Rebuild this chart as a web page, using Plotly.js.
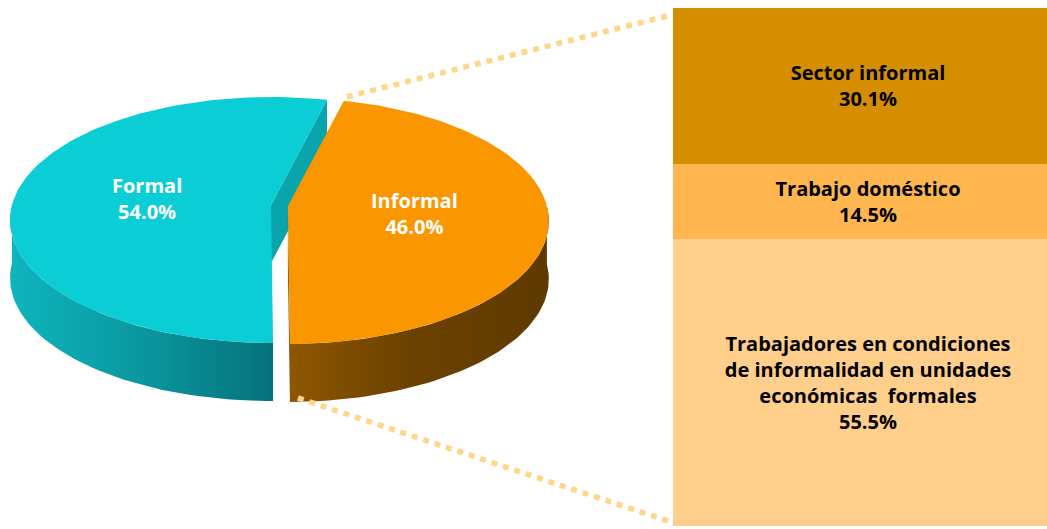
<!DOCTYPE html>
<html><head><meta charset="utf-8">
<script src="https://cdn.plot.ly/plotly-3.0.1.min.js"></script>
<style>html,body{margin:0;padding:0;background:#fff;overflow:hidden;} #chart{width:1047px;height:529px;}</style>
</head><body><div id="chart"></div>
<script>
// ---- data ----
const pieLabels = ['Formal', 'Informal'];
const pieValues = [54.0, 46.0];
const barLabels = ['Trabajadores en condiciones<br>de informalidad en unidades<br>económicas  formales', 'Trabajo doméstico', 'Sector informal'];
const barValues = [55.5, 14.5, 30.1];

// ---- styles ----
const topColors = ['#0BCDD6', '#FA9600'];
const cutColors = ['#09A4AC', '#7A4A00'];
const wallScales = [
  [[0, '#0EB5BE'], [0.5, '#0A979F'], [1, '#05727A']],
  [[0, '#8E5600'], [0.45, '#6C4200'], [1, '#5E3A00']]
];
const barColors = ['#FFCF8B', '#FFB64F', '#D58E00'];
const FONT = '"Open Sans", "Noto Sans", sans-serif';

const W = 1047, H = 529;
const cx = 271, cy = 205, A = 259, B = 121.2, K = 0.122, depth = 58, startDeg = 14;
const explodePx = [0, 17];

function proj(tDeg, r, off) {
  const t = tDeg * Math.PI / 180;
  const u = r * Math.sin(t), v = r * Math.cos(t);
  const s = 1 + K * v;
  return [cx + off[0] + A * u / s, cy + off[1] - B * v / s];
}
function arc(t1, t2, r, off, dy) {
  const pts = [];
  const n = Math.max(2, Math.ceil(Math.abs(t2 - t1) / 1.5));
  for (let i = 0; i <= n; i++) {
    const p = proj(t1 + (t2 - t1) * i / n, r, off);
    pts.push([p[0], p[1] + dy]);
  }
  return pts;
}
function poly(pts, color, extra) {
  const tr = {
    type: 'scatter', mode: 'lines', x: pts.map(p => p[0]), y: pts.map(p => p[1]),
    fill: 'toself', fillcolor: color, line: {width: 0, color: 'rgba(0,0,0,0)'},
    hoverinfo: 'skip', showlegend: false, xaxis: 'x', yaxis: 'y'
  };
  return Object.assign(tr, extra || {});
}

const traces = [];
const annotations = [];
const total = pieValues.reduce((a, b) => a + b, 0);
const slices = [];
pieValues.forEach((v, i) => {
  const sweep = 360 * v / total;
  let t1, t2;
  if (i === 0) { t2 = startDeg + 360; t1 = t2 - sweep; }
  else { t1 = startDeg; t2 = startDeg + sweep; }
  const mid = (t1 + t2) / 2;
  const e = explodePx[i];
  const mr = mid * Math.PI / 180;
  const off = [e * Math.sin(mr), -e * Math.cos(mr) * B / A];
  slices.push({t1, t2, mid, off, i});
});

slices.forEach(sl => {
  const {t1, t2, off, i} = sl;
  const c = proj(0, 0, off);
  [[t1, -1], [t2, 1]].forEach(([tb, dir]) => {
    const s = Math.sin(tb * Math.PI / 180) * dir;
    if (s > 0) {
      const rim = proj(tb, 1, off);
      traces.push(poly([[c[0], c[1]], rim, [rim[0], rim[1] + depth], [c[0], c[1] + depth]], cutColors[i]));
    }
  });
  const lo = Math.max(t1, 90), hi = Math.min(t2, 270);
  if (hi > lo) {
    const top = arc(lo, hi, 1, off, 0);
    const bot = arc(hi, lo, 1, off, depth);
    traces.push(poly(top.concat(bot), wallScales[i][0][1], {
      fillgradient: {type: 'horizontal', colorscale: wallScales[i]}
    }));
  }
  const face = [[c[0], c[1]]].concat(arc(t1, t2, 1, off, 0));
  traces.push(poly(face, topColors[i]));
  const lp = proj(sl.mid, i === 0 ? 0.485 : 0.49, off);
  annotations.push({
    x: lp[0], y: lp[1], xref: 'x', yref: 'y', showarrow: false,
    text: pieLabels[i] + '<br>' + pieValues[i].toFixed(1) + '%',
    font: {family: FONT, size: 20, color: '#FFFFFF', weight: 700},
    align: 'center'
  });
});

// ---- stacked bar (right) ----
const barX0 = 673, barTop = 8, barBottom = 526;
const barFullWidthPx = 390;
const visFrac = (W - barX0) / barFullWidthPx;
barValues.forEach((v, i) => {
  traces.push({
    type: 'bar', x: [0], y: [v], width: [1], xaxis: 'x2', yaxis: 'y2',
    marker: {color: barColors[i], line: {width: 0}},
    text: [barLabels[i] + '<br>' + v.toFixed(1) + '%'],
    textposition: 'inside', insidetextanchor: 'middle', textangle: 0,
    constraintext: 'none',
    insidetextfont: {family: FONT, size: 20, color: '#000000', weight: 700},
    hoverinfo: 'skip', showlegend: false
  });
});

// ---- connector dotted lines ----
const inf = slices[1];
const tip = proj(inf.t1, 1, inf.off);
const frontBot = proj(inf.t2, 1, inf.off);
const lineStyle = {color: '#FFD68E', width: 5.5, dash: '6px,6px'};
traces.push({type: 'scatter', mode: 'lines', x: [tip[0] + 3, barX0 - 2], y: [tip[1] - 4, barTop + 7],
  line: lineStyle, hoverinfo: 'skip', showlegend: false, xaxis: 'x', yaxis: 'y'});
traces.push({type: 'scatter', mode: 'lines', x: [frontBot[0] + 8, barX0 - 2], y: [frontBot[1] + depth - 4, barBottom - 4],
  line: lineStyle, hoverinfo: 'skip', showlegend: false, xaxis: 'x', yaxis: 'y'});

const barTotal = barValues.reduce((a, b) => a + b, 0);
const layout = {
  width: W, height: H, margin: {l: 0, r: 0, t: 0, b: 0},
  paper_bgcolor: '#FFFFFF', plot_bgcolor: 'rgba(0,0,0,0)',
  showlegend: false, barmode: 'stack', bargap: 0,
  xaxis: {range: [0, W], visible: false, domain: [0, 1], fixedrange: true},
  yaxis: {range: [H, 0], visible: false, domain: [0, 1], fixedrange: true},
  xaxis2: {domain: [barX0 / W, 1], range: [-0.5, -0.5 + visFrac], visible: false, anchor: 'y2'},
  yaxis2: {domain: [(H - barBottom) / H, (H - barTop) / H], range: [0, barTotal], visible: false, anchor: 'x2'},
  annotations: annotations
};
Plotly.newPlot('chart', traces, layout, {staticPlot: true, displayModeBar: false});
</script>
</body></html>
